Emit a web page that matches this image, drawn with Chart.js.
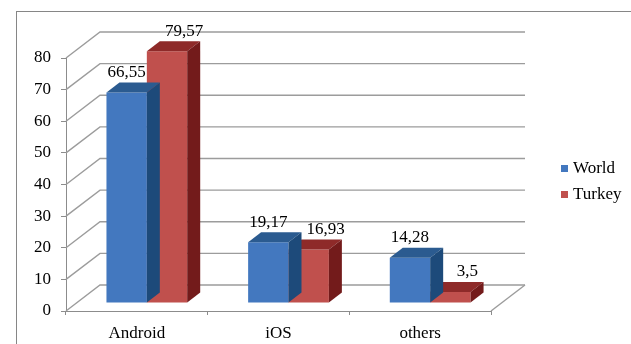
<!DOCTYPE html>
<html>
<head>
<meta charset="utf-8">
<script src="https://cdn.jsdelivr.net/npm/chart.js@4/dist/chart.umd.min.js"></script>
<style>
  body { margin: 0; background: #fff; }
  #wrap { width: 631px; height: 344px; }
</style>
</head>
<body>
<div id="wrap"><canvas id="osChart" width="631" height="344"></canvas></div>
<script>
// ========== data ==========
const platforms = ['Android', 'iOS', 'others']
const worldShare = [66.55, 19.17, 14.28]
const turkeyShare = [79.57, 16.93, 3.5]
const seriesNames = ['World', 'Turkey']

// ========== 3d look (pixels) ==========
const WALL_DX = 34, WALL_DY = -26      // depth of the back wall
const BAR_SHIFT_X = 10, BAR_SHIFT_Y = -8 // bars sit a bit inside the box
const BAR_DX = 13, BAR_DY = -10        // depth of each bar
const FONT = "'Liberation Serif', 'Times New Roman', serif"
const shades = [
  {front: '#4378bf', top: '#2b5b90', side: '#1d4a7a'},
  {front: '#c0504d', top: '#8e2a29', side: '#731b1b'}
]

Chart.defaults.font.family = FONT
Chart.defaults.font.size = 17
Chart.defaults.color = '#000'

function fmt(v){
  return String(v).replace('.', ',')
}

// ========== plugin: frame, walls, bar tops / sides, labels, legend ==========
const box3d = {
  id: 'box3d',
  beforeDraw(chart){
    const ctx = chart.ctx
    ctx.save()
    ctx.fillStyle = '#fff'
    ctx.fillRect(0, 0, chart.width, chart.height)
    ctx.strokeStyle = '#868686'
    ctx.lineWidth = 1
    ctx.strokeRect(16.5, 11.5, 700, 500)
    ctx.restore()
  },
  beforeDatasetsDraw(chart){
    const {ctx, chartArea: a, scales: {y}} = chart
    ctx.save()
    ctx.strokeStyle = '#9c9c9c'
    ctx.lineWidth = 1.4
    y.ticks.forEach(t => {
      const py = y.getPixelForValue(t.value)
      ctx.beginPath()
      ctx.moveTo(a.left, py)
      ctx.lineTo(a.left + WALL_DX, py + WALL_DY)
      ctx.lineTo(a.right + WALL_DX, py + WALL_DY)
      ctx.stroke()
    })
    // right edge of the floor
    ctx.beginPath()
    ctx.moveTo(a.right, a.bottom)
    ctx.lineTo(a.right + WALL_DX, a.bottom + WALL_DY)
    ctx.stroke()
    ctx.restore()
    // bars are drawn shifted into the box
    ctx.save()
    ctx.translate(BAR_SHIFT_X, BAR_SHIFT_Y)
  },
  afterDatasetDraw(chart, args){
    const ctx = chart.ctx
    const c = shades[args.index]
    args.meta.data.forEach(bar => {
      const {x, y, base, width} = bar.getProps(['x', 'y', 'base', 'width'], true)
      const l = x - width / 2, r = x + width / 2
      ctx.fillStyle = c.top
      ctx.beginPath()
      ctx.moveTo(l, y)
      ctx.lineTo(r, y)
      ctx.lineTo(r + BAR_DX, y + BAR_DY)
      ctx.lineTo(l + BAR_DX, y + BAR_DY)
      ctx.closePath()
      ctx.fill()
      ctx.fillStyle = c.side
      ctx.beginPath()
      ctx.moveTo(r, y)
      ctx.lineTo(r + BAR_DX, y + BAR_DY)
      ctx.lineTo(r + BAR_DX, base + BAR_DY)
      ctx.lineTo(r, base)
      ctx.closePath()
      ctx.fill()
    })
  },
  afterDatasetsDraw(chart){
    const ctx = chart.ctx
    ctx.restore()
    ctx.save()
    ctx.font = '17px ' + FONT
    ctx.fillStyle = '#000'
    ctx.textAlign = 'center'
    ctx.textBaseline = 'middle'
    chart.data.datasets.forEach((ds, i) => {
      chart.getDatasetMeta(i).data.forEach((bar, j) => {
        const lx = bar.x + BAR_SHIFT_X + (i === 1 ? 17 : 0)
        const ly = bar.y + BAR_SHIFT_Y - 20
        ctx.fillText(fmt(ds.data[j]), lx, ly)
      })
    })
    // legend
    ctx.textAlign = 'left'
    ctx.textBaseline = 'alphabetic'
    chart.data.datasets.forEach((ds, i) => {
      const ly = 165 + i * 26
      ctx.fillStyle = shades[i].front
      ctx.fillRect(561, ly, 7, 7)
      ctx.fillStyle = '#000'
      ctx.fillText(ds.label, 573, ly + 8)
    })
    ctx.restore()
  }
}

// ========== chart ==========
const ctx = document.getElementById('osChart').getContext('2d')
new Chart(ctx, {
  type: 'bar',
  data: {
    labels: platforms,
    datasets: [
      {label: seriesNames[0], data: worldShare, backgroundColor: shades[0].front, clip: false},
      {label: seriesNames[1], data: turkeyShare, backgroundColor: shades[1].front, clip: false}
    ]
  },
  options: {
    responsive: false,
    animation: false,
    categoryPercentage: 0.57,
    barPercentage: 1,
    layout: {padding: {top: 58, right: 140, left: 0, bottom: 0}},
    plugins: {
      legend: {display: false},
      tooltip: {enabled: false}
    },
    scales: {
      x: {
        afterFit(scale){ scale.height = 33 },
        grid: {drawOnChartArea: false, tickLength: 4, color: '#8c8c8c'},
        border: {color: '#8c8c8c'},
        ticks: {padding: 8}
      },
      y: {
        min: 0,
        max: 80,
        afterFit(scale){ scale.width = 66 },
        grid: {drawOnChartArea: false, tickLength: 5, color: '#8c8c8c'},
        border: {color: '#8c8c8c'},
        ticks: {stepSize: 10, padding: 10}
      }
    }
  },
  plugins: [box3d]
})
</script>
</body>
</html>
